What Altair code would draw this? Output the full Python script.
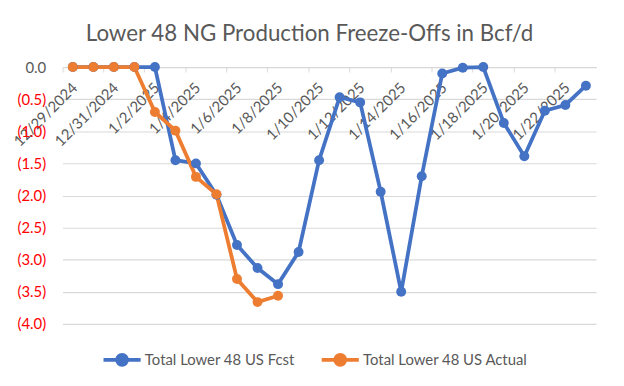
import altair as alt
import pandas as pd

dates = ["12/29/2024", "12/30/2024", "12/31/2024", "1/1/2025", "1/2/2025", "1/3/2025",
         "1/4/2025", "1/5/2025", "1/6/2025", "1/7/2025", "1/8/2025", "1/9/2025",
         "1/10/2025", "1/11/2025", "1/12/2025", "1/13/2025", "1/14/2025", "1/15/2025",
         "1/16/2025", "1/17/2025", "1/18/2025", "1/19/2025", "1/20/2025", "1/21/2025",
         "1/22/2025", "1/23/2025"]
fcst = [0.0, 0.0, 0.0, 0.0, 0.0, -1.45, -1.50, -1.99, -2.77, -3.13, -3.38, -2.88,
        -1.45, -0.47, -0.55, -1.94, -3.50, -1.70, -0.10, -0.01, 0.0, -0.87, -1.39,
        -0.68, -0.59, -0.29]
actual = [0.0, 0.0, 0.0, 0.0, -0.70, -0.99, -1.71, -1.98, -3.30, -3.66, -3.56]
series_names = ["Total Lower 48 US Fcst", "Total Lower 48 US Actual"]
series_colors = ["#4472C4", "#ED7D31"]
y_ticks = [0, -0.5, -1, -1.5, -2, -2.5, -3, -3.5, -4]

rows = []
for d, v in zip(dates, fcst):
    rows.append({"date": d, "value": v, "series": series_names[0]})
for d, v in zip(dates, actual):
    rows.append({"date": d, "value": v, "series": series_names[1]})
df = pd.DataFrame(rows)
tick_df = pd.DataFrame({"date": dates})

label_values = dates[::2]
FONT = "Lato"
GREY = "#595959"

x_scale = alt.Scale(type="band", domain=dates, paddingInner=0, paddingOuter=0)
y_scale = alt.Scale(domain=[-4, 0], nice=False)

legend_path = ("M-1,0L1,0M-0.27,0A0.27,0.27 0 1,1 0.27,0A0.27,0.27 0 1,1 -0.27,0Z")

lines = alt.Chart(df).mark_line(
    strokeWidth=3.8,
    point=alt.OverlayMarkDef(filled=True, size=100, opacity=1),
).encode(
    x=alt.X("date:O", scale=x_scale, sort=dates,
            axis=alt.Axis(title=None, orient="bottom", offset=-259, values=label_values,
                          labelAngle=-45, labelAlign="right", labelBaseline="middle",
                          labelPadding=18, labelOffset=2, ticks=False, domain=True,
                          domainColor="#D9D9D9", domainWidth=1, grid=False,
                          labelFontSize=15, labelColor=GREY, labelFont=FONT,
                          labelOverlap=False, bandPosition=0.5)),
    y=alt.Y("value:Q", scale=y_scale,
            axis=alt.Axis(title=None, values=y_ticks, labelOverlap=False,
                          labelExpr="datum.value == 0 ? '0.0\u2009' : '(' + format(-datum.value, '.1f') + ')'",
                          labelColor={"condition": {"test": "datum.value < 0", "value": "#FF0000"},
                                      "value": GREY},
                          labelFontSize=15, labelFont=FONT, ticks=False, domain=False,
                          gridColor="#D9D9D9", gridWidth=1.2, labelPadding=17)),
    color=alt.Color("series:N", scale=alt.Scale(domain=series_names, range=series_colors),
                    sort=series_names,
                    legend=alt.Legend(title=None, orient="none", legendX=39, legendY=274,
                                      direction="horizontal", symbolType=legend_path,
                                      symbolSize=1400, symbolStrokeWidth=3.8,
                                      labelFontSize=15, labelColor=GREY, labelFont=FONT,
                                      labelLimit=300, columnPadding=18, labelOffset=2)),
)

ticks = alt.Chart(tick_df).mark_rule(opacity=0).encode(
    x=alt.X("date:O", scale=x_scale, sort=dates,
            axis=alt.Axis(title=None, orient="bottom", offset=-259, values=label_values,
                          labels=False, ticks=True, tickSize=5, tickColor="#D9D9D9",
                          domain=False, grid=False, bandPosition=0)),
)

chart = alt.layer(ticks, lines).resolve_axis(x="independent").properties(
    width=538, height=259,
    padding={"left": 55, "top": 58, "right": 20, "bottom": 58},
    autosize=alt.AutoSizeParams(type="none"),
    background="white",
    title=alt.Title("Lower 48 NG Production Freeze-Offs in Bcf/d", fontSize=22.5,
                    font=FONT, color=GREY, fontWeight="normal", offset=14, dx=-20,
                    anchor="middle"),
).configure_view(stroke=None)

chart.save("out.html", embed_options={"renderer": "svg", "actions": False})
